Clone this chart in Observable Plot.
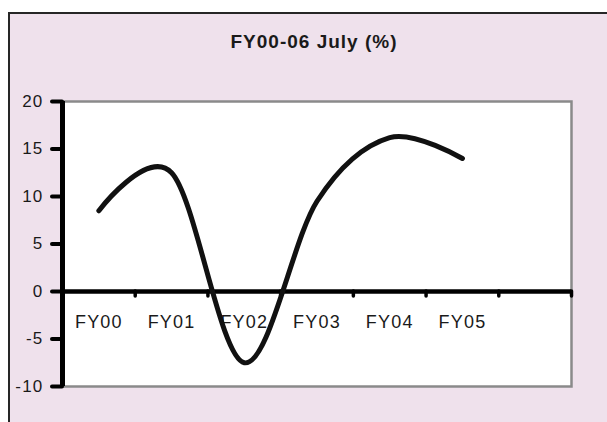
<!DOCTYPE html>
<html>
<head>
<meta charset="utf-8">
<script src="https://cdn.jsdelivr.net/npm/d3@7"></script>
<script src="https://cdn.jsdelivr.net/npm/@observablehq/plot@0.6"></script>
<style>
  html, body { margin: 0; padding: 0; background: #ffffff; overflow: hidden; }
  #wrap { position: relative; width: 607px; height: 422px; overflow: hidden; }
  #frame { position: absolute; left: 8px; top: 12px; width: 640px; height: 460px;
           border-left: 2.5px solid #262626; border-top: 2.5px solid #262626;
           background: #efe1ec; }
  #title { position: absolute; left: 0; top: 31px; width: 628px; text-align: center;
           font-family: "Liberation Sans", Arial, sans-serif; font-weight: bold;
           font-size: 19px; letter-spacing: 1px; color: #1a1a1a; }
  #chart { position: absolute; left: 0; top: 0; }
  #chart svg { background: transparent; }
  #chart svg text { letter-spacing: 1.2px; }
</style>
</head>
<body>
<div id="wrap">
  <div id="frame"></div>
  <div id="title">FY00-06 July (%)</div>
  <div id="chart"></div>
</div>
<script>
const categories = ["FY00", "FY01", "FY02", "FY03", "FY04", "FY05", ""];
const values = [8.5, 12.5, -7.5, 9.5, 16.2, 14.0];
const yTicks = [-10, -5, 0, 5, 10, 15, 20];

const boundaries = d3.range(1, categories.length + 1);

const chart = Plot.plot({
  width: 607,
  height: 422,
  marginLeft: 62,
  marginRight: 36,
  marginTop: 101,
  marginBottom: 36,
  style: { background: "transparent", fontFamily: "'Liberation Sans', Arial, sans-serif", color: "#1a1a1a" },
  x: { domain: [0, categories.length], axis: null },
  y: { domain: [-10, 20], axis: null },
  marks: [
    Plot.frame({ fill: "white", stroke: "#8a8a8a", strokeWidth: 2.5 }),
    Plot.ruleY(yTicks, { y: d => d, x1: 0, x2: 0, insetLeft: -10, stroke: "#000", strokeWidth: 4, strokeLinecap: "round" }),
    Plot.text(yTicks, { y: d => d, frameAnchor: "left", dx: -19, textAnchor: "end", text: d => String(d), fontSize: 17, fill: "#1a1a1a" }),
    Plot.ruleY([0], { stroke: "#000", strokeWidth: 4.5 }),
    Plot.ruleX(boundaries, { x: d => d, y1: 0, y2: 0, insetBottom: -5, stroke: "#000", strokeWidth: 3.5, strokeLinecap: "round" }),
    Plot.text(categories, { x: (d, i) => i + 0.5, y: 0, text: d => d, dy: 31, fontSize: 18, fill: "#1a1a1a" }),
    Plot.line(values, { x: (d, i) => i + 0.5, y: d => d, curve: "cardinal", stroke: "#111", strokeWidth: 5, strokeLinecap: "round", strokeLinejoin: "round" }),
    Plot.ruleX([0], { stroke: "#000", strokeWidth: 5 })
  ]
});
document.getElementById("chart").appendChild(chart);
</script>
</body>
</html>
